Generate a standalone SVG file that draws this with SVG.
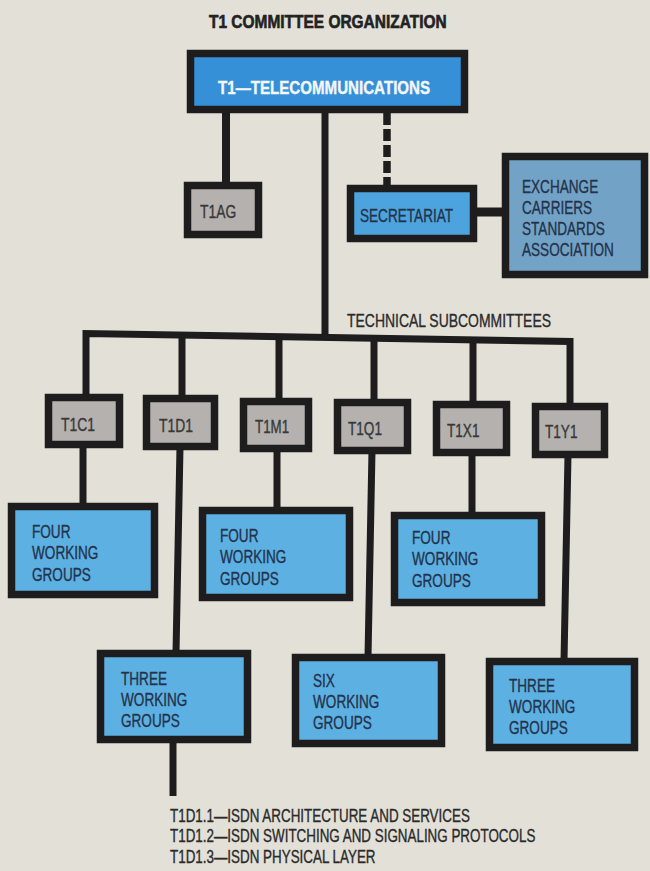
<svg xmlns="http://www.w3.org/2000/svg" width="650" height="871" viewBox="0 0 650 871">
<style>
.bg{fill:#e3e0d8}
.box{stroke:#1e1c1d;stroke-width:7.5}
.blue{fill:#3590d8}
.wg{fill:#5cb0e2}
.sec{fill:#4da3de}
.ecsa{fill:#72a3c6}
.grey{fill:#b4b1ae}
.ln{stroke:#1e1c1d;stroke-width:7;fill:none;stroke-linejoin:miter}
.t{font-family:"Liberation Sans",Arial,sans-serif;font-size:18px;fill:#24324a;stroke:#24324a;stroke-width:0.35}
.tg{font-family:"Liberation Sans",Arial,sans-serif;font-size:18px;fill:#383838;stroke:#383838;stroke-width:0.35}
.tk{font-family:"Liberation Sans",Arial,sans-serif;font-size:18px;fill:#2a2a2a;stroke:#2a2a2a;stroke-width:0.35}
.tb{font-family:"Liberation Sans",Arial,sans-serif;font-size:18px;font-weight:bold}
</style>
<rect class="bg" x="0" y="0" width="650" height="871"/>
<text class="tb" fill="#222" stroke="#222" stroke-width="0.6" transform="translate(209 28) scale(0.86 1)">T1 COMMITTEE ORGANIZATION</text>

<g id="connectors">
  <line class="ln" x1="226" y1="110" x2="226" y2="185" style="stroke-width:8"/>
  <line class="ln" x1="325" y1="110" x2="325" y2="334"/>
  <line class="ln" x1="387" y1="113" x2="387" y2="188" style="stroke-width:7.5" stroke-dasharray="12 4"/>
  <line class="ln" x1="474" y1="212" x2="506" y2="212" style="stroke-width:9"/>
  <path class="ln" d="M86,397 V333.5 L570,341.5 V406"/>
  <line class="ln" x1="182" y1="334.6" x2="182" y2="398"/>
  <line class="ln" x1="279" y1="336.2" x2="279" y2="401"/>
  <line class="ln" x1="374" y1="337.8" x2="374" y2="402"/>
  <line class="ln" x1="473" y1="339.4" x2="473" y2="404"/>
  <line class="ln" x1="83" y1="445" x2="83" y2="506"/>
  <line class="ln" x1="180" y1="447" x2="176" y2="653"/>
  <line class="ln" x1="277" y1="449" x2="277" y2="510"/>
  <line class="ln" x1="372" y1="451" x2="368" y2="657"/>
  <line class="ln" x1="472" y1="453" x2="472" y2="515"/>
  <line class="ln" x1="568" y1="455" x2="564" y2="661"/>
  <line class="ln" x1="173" y1="740" x2="173" y2="796"/>
</g>

<text class="tk" transform="translate(347 327) scale(0.775 1)">TECHNICAL SUBCOMMITTEES</text>

<g id="t1">
  <rect class="box blue" x="190.5" y="53.5" width="274" height="56"/>
  <text class="tb" fill="#f4f6f8" stroke="#f4f6f8" stroke-width="0.4" transform="translate(218 94) scale(0.84 1)">T1—TELECOMMUNICATIONS</text>
</g>
<g id="t1ag">
  <rect class="box grey" x="187.5" y="185.5" width="71" height="49"/>
  <text class="tg" transform="translate(200 218) scale(0.77 1)">T1AG</text>
</g>
<g id="secretariat">
  <rect class="box sec" x="350.5" y="188.5" width="123" height="50"/>
  <text class="t" transform="translate(360 222) scale(0.755 1)">SECRETARIAT</text>
</g>
<g id="ecsa">
  <rect class="box ecsa" x="505.5" y="156.5" width="139" height="118"/>
  <text class="t" transform="translate(522 193) scale(0.755 1)"><tspan x="0" y="0">EXCHANGE</tspan><tspan x="0" y="21">CARRIERS</tspan><tspan x="0" y="42">STANDARDS</tspan><tspan x="0" y="63">ASSOCIATION</tspan></text>
</g>

<g id="t1c1">
  <rect class="box grey" x="48.5" y="397.5" width="71" height="47"/>
  <text class="tg" transform="translate(61 431) scale(0.77 1)">T1C1</text>
</g>
<g id="t1d1">
  <rect class="box grey" x="146.5" y="398.5" width="68" height="48"/>
  <text class="tg" transform="translate(159 432) scale(0.77 1)">T1D1</text>
</g>
<g id="t1m1">
  <rect class="box grey" x="243.5" y="401.5" width="65" height="47"/>
  <text class="tg" transform="translate(255 433) scale(0.74 1)">T1M1</text>
</g>
<g id="t1q1">
  <rect class="box grey" x="337.5" y="402.5" width="70" height="48"/>
  <text class="tg" transform="translate(348 435) scale(0.755 1)">T1Q1</text>
</g>
<g id="t1x1">
  <rect class="box grey" x="436.5" y="404.5" width="70" height="48"/>
  <text class="tg" transform="translate(447 437) scale(0.755 1)">T1X1</text>
</g>
<g id="t1y1">
  <rect class="box grey" x="535.5" y="406.5" width="69" height="48"/>
  <text class="tg" transform="translate(545 438) scale(0.755 1)">T1Y1</text>
</g>

<g id="wg-t1c1">
  <rect class="box wg" x="11.5" y="506.5" width="143" height="88"/>
  <text class="t" transform="translate(32 538) scale(0.755 1)"><tspan x="0" y="0">FOUR</tspan><tspan x="0" y="21.5">WORKING</tspan><tspan x="0" y="43">GROUPS</tspan></text>
</g>
<g id="wg-t1m1">
  <rect class="box wg" x="202.5" y="510.5" width="147" height="87"/>
  <text class="t" transform="translate(220 542) scale(0.755 1)"><tspan x="0" y="0">FOUR</tspan><tspan x="0" y="21.5">WORKING</tspan><tspan x="0" y="43">GROUPS</tspan></text>
</g>
<g id="wg-t1x1">
  <rect class="box wg" x="394.5" y="515.5" width="147" height="87"/>
  <text class="t" transform="translate(412 544) scale(0.755 1)"><tspan x="0" y="0">FOUR</tspan><tspan x="0" y="21.5">WORKING</tspan><tspan x="0" y="43">GROUPS</tspan></text>
</g>
<g id="wg-t1d1">
  <rect class="box wg" x="100.5" y="653.5" width="147" height="86"/>
  <text class="t" transform="translate(121 685) scale(0.755 1)"><tspan x="0" y="0">THREE</tspan><tspan x="0" y="21">WORKING</tspan><tspan x="0" y="42">GROUPS</tspan></text>
</g>
<g id="wg-t1q1">
  <rect class="box wg" x="295.5" y="657.5" width="146" height="86"/>
  <text class="t" transform="translate(313 687) scale(0.755 1)"><tspan x="0" y="0">SIX</tspan><tspan x="0" y="21">WORKING</tspan><tspan x="0" y="42">GROUPS</tspan></text>
</g>
<g id="wg-t1y1">
  <rect class="box wg" x="489.5" y="661.5" width="145" height="86"/>
  <text class="t" transform="translate(509 692) scale(0.755 1)"><tspan x="0" y="0">THREE</tspan><tspan x="0" y="21">WORKING</tspan><tspan x="0" y="42">GROUPS</tspan></text>
</g>

<g id="t1d1-list">
  <text class="tk" transform="translate(170 822) scale(0.745 1)"><tspan x="0" y="0">T1D1.1—ISDN ARCHITECTURE AND SERVICES</tspan><tspan x="0" y="20.5">T1D1.2—ISDN SWITCHING AND SIGNALING PROTOCOLS</tspan><tspan x="0" y="41">T1D1.3—ISDN PHYSICAL LAYER</tspan></text>
</g>
</svg>
